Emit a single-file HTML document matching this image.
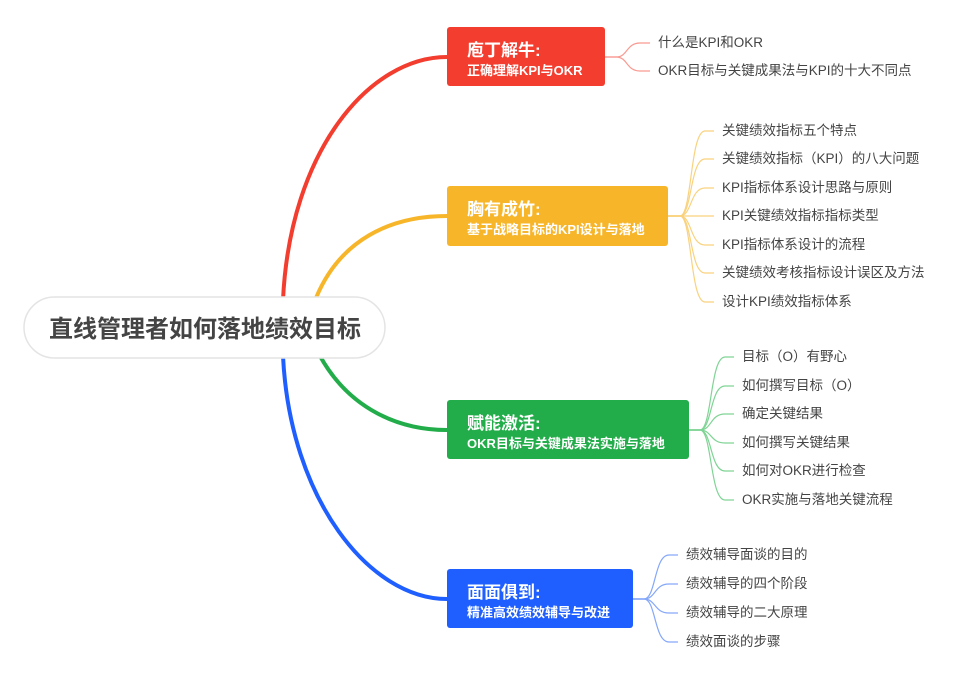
<!DOCTYPE html>
<html><head><meta charset="utf-8"><style>
body{margin:0;background:#fff;width:968px;height:682px;overflow:hidden;font-family:"Liberation Sans","Noto Sans CJK SC",sans-serif}
svg{position:absolute;left:0;top:0}
.box{position:absolute;border-radius:3px;color:#fff;font-weight:bold;padding-left:20px;box-sizing:border-box}
.box .t{font-size:17px;position:absolute;top:9px;left:20px;white-space:nowrap}
.box .s{font-size:13px;position:absolute;top:33px;left:20px;white-space:nowrap}
.leaf{position:absolute;font-size:13.5px;color:#444;white-space:nowrap;line-height:16px}
</style></head><body>
<svg width="968" height="682">
<g fill="none" stroke-width="4" stroke-linecap="round">
<path d="M283,300 C290,150 370,57 447,57" stroke="#f23d2f"/>
<path d="M316,298 C340,240 390,216 447,216" stroke="#f7b52a"/>
<path d="M320,356 C350,410 400,430 447,430" stroke="#22ad4a"/>
<path d="M283,356 C290,500 370,599 447,599" stroke="#1f5fff"/>
</g>
<g fill="none" stroke-width="1.2">
<g stroke="#f99a92">
<path d="M605,57 L616,57 C628,57 626,43 640,43 L650,43"/>
<path d="M605,57 L616,57 C628,57 626,71 640,71 L650,71"/>
</g>
<g stroke="#f9d27e">
<path d="M668,216 L680,216 C692,216 690,131 705,131 L714,131"/>
<path d="M668,216 L680,216 C692,216 690,159 705,159 L714,159"/>
<path d="M668,216 L680,216 C692,216 690,188 705,188 L714,188"/>
<path d="M668,216 L714,216"/>
<path d="M668,216 L680,216 C692,216 690,245 705,245 L714,245"/>
<path d="M668,216 L680,216 C692,216 690,273 705,273 L714,273"/>
<path d="M668,216 L680,216 C692,216 690,302 705,302 L714,302"/>
</g>
<g stroke="#7fd495">
<path d="M689,430 L700,430 C712,430 710,357 725,357 L734,357"/>
<path d="M689,430 L700,430 C712,430 710,386 725,386 L734,386"/>
<path d="M689,430 L700,430 C712,430 710,414 725,414 L734,414"/>
<path d="M689,430 L700,430 C712,430 710,443 725,443 L734,443"/>
<path d="M689,430 L700,430 C712,430 710,471 725,471 L734,471"/>
<path d="M689,430 L700,430 C712,430 710,500 725,500 L734,500"/>
</g>
<g stroke="#86a8f9">
<path d="M633,599 L644,599 C656,599 654,555 669,555 L678,555"/>
<path d="M633,599 L644,599 C656,599 654,584 669,584 L678,584"/>
<path d="M633,599 L644,599 C656,599 654,613 669,613 L678,613"/>
<path d="M633,599 L644,599 C656,599 654,642 669,642 L678,642"/>
</g>
</g>
<rect x="24" y="297" width="361" height="61" rx="30.5" fill="#fff" stroke="#e4e4e4" stroke-width="1.5"/>
<text x="205" y="337" text-anchor="middle" font-size="24" font-weight="bold" fill="#444" font-family="Liberation Sans, Noto Sans CJK SC, sans-serif">直线管理者如何落地绩效目标</text>
</svg>
<div class="box" style="left:447px;top:27px;width:158px;height:59px;background:#f23d2f"><div class="t">庖丁解牛:</div><div class="s">正确理解KPI与OKR</div></div>
<div class="box" style="left:447px;top:186px;width:221px;height:60px;background:#f7b52a"><div class="t">胸有成竹:</div><div class="s">基于战略目标的KPI设计与落地</div></div>
<div class="box" style="left:447px;top:400px;width:242px;height:59px;background:#22ad4a"><div class="t">赋能激活:</div><div class="s">OKR目标与关键成果法实施与落地</div></div>
<div class="box" style="left:447px;top:569px;width:186px;height:59px;background:#1f5fff"><div class="t">面面俱到:</div><div class="s">精准高效绩效辅导与改进</div></div>

<div class="leaf" style="left:658px;top:35px">什么是KPI和OKR</div>
<div class="leaf" style="left:658px;top:63px">OKR目标与关键成果法与KPI的十大不同点</div>

<div class="leaf" style="left:722px;top:123px">关键绩效指标五个特点</div>
<div class="leaf" style="left:722px;top:151px">关键绩效指标（KPI）的八大问题</div>
<div class="leaf" style="left:722px;top:180px">KPI指标体系设计思路与原则</div>
<div class="leaf" style="left:722px;top:208px">KPI关键绩效指标指标类型</div>
<div class="leaf" style="left:722px;top:237px">KPI指标体系设计的流程</div>
<div class="leaf" style="left:722px;top:265px">关键绩效考核指标设计误区及方法</div>
<div class="leaf" style="left:722px;top:294px">设计KPI绩效指标体系</div>

<div class="leaf" style="left:742px;top:349px">目标（O）有野心</div>
<div class="leaf" style="left:742px;top:378px">如何撰写目标（O）</div>
<div class="leaf" style="left:742px;top:406px">确定关键结果</div>
<div class="leaf" style="left:742px;top:435px">如何撰写关键结果</div>
<div class="leaf" style="left:742px;top:463px">如何对OKR进行检查</div>
<div class="leaf" style="left:742px;top:492px">OKR实施与落地关键流程</div>

<div class="leaf" style="left:686px;top:547px">绩效辅导面谈的目的</div>
<div class="leaf" style="left:686px;top:576px">绩效辅导的四个阶段</div>
<div class="leaf" style="left:686px;top:605px">绩效辅导的二大原理</div>
<div class="leaf" style="left:686px;top:634px">绩效面谈的步骤</div>
</body></html>
